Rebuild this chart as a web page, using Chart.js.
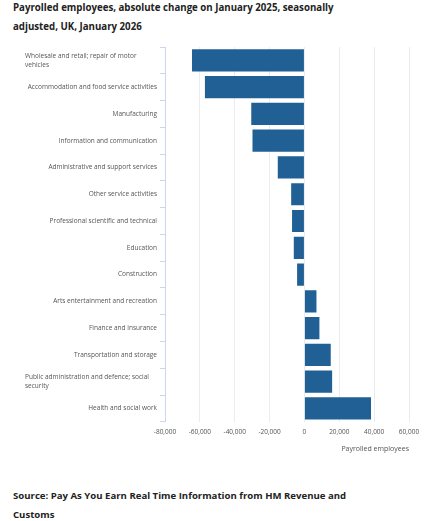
<!DOCTYPE html>
<html>
<head>
<meta charset="utf-8">
<script src="https://cdn.jsdelivr.net/npm/chart.js@4"></script>
<style>
  body { margin: 0; background: #fff; font-family: "Open Sans", sans-serif; }
  .title { position: absolute; left: 13px; top: -2px; width: 340px; font-size: 9.7px; font-weight: bold; line-height: 19px; color: #222; }
  .source { position: absolute; left: 13px; top: 486px; width: 350px; font-size: 9.6px; font-weight: bold; line-height: 19px; color: #222; }
  .wrap { position: absolute; left: 0; top: 40px; width: 435px; height: 413px; }
</style>
</head>
<body>
<div class="title">Payrolled employees, absolute change on January 2025, seasonally adjusted, UK, January 2026</div>
<div class="wrap"><canvas id="chart"></canvas></div>
<div class="source">Source: Pay As You Earn Real Time Information from HM Revenue and Customs</div>
<script>
// industries, top to bottom
const industries = [
  ['Wholesale and retail; repair of motor', 'vehicles'],
  'Accommodation and food service activities',
  'Manufacturing',
  'Information and communication',
  'Administrative and support services',
  'Other service activities',
  'Professional scientific and technical',
  'Education',
  'Construction',
  'Arts entertainment and recreation',
  'Finance and insurance',
  'Transportation and storage',
  ['Public administration and defence; social', 'security'],
  'Health and social work'
];

// change in payrolled employees vs January 2025
const changes = [-64500, -57100, -30500, -29800, -15300, -7600, -7100, -6100, -4200,
  6900, 8600, 15100, 15900, 38200];

const xMin = -80000;
const xMax = 60000;
const xStep = 20000;

const labelFont = { family: 'Open Sans', size: 6.5 };
const labelColor = '#555';

// wrapped labels sit left-aligned in a block, like the original
const wrappedLabels = {
  id: 'wrappedLabels',
  afterDraw(chart) {
    const scale = chart.scales.y;
    const c = chart.ctx;
    c.save();
    c.font = labelFont.size + 'px ' + labelFont.family;
    c.fillStyle = labelColor;
    c.textAlign = 'left';
    c.textBaseline = 'middle';
    const lh = 8.6;
    industries.forEach((lab, i) => {
      if (!Array.isArray(lab)) return;
      const y = scale.getPixelForTick(i);
      const y0 = y - (lab.length - 1) * lh / 2;
      lab.forEach((line, j) => c.fillText(line, 25, y0 + j * lh));
    });
    c.restore();
  }
};

new Chart(document.getElementById('chart'), {
  type: 'bar',
  data: {
    labels: industries,
    datasets: [{
      data: changes,
      backgroundColor: '#206095',
      barPercentage: 0.83,
      categoryPercentage: 1
    }]
  },
  options: {
    indexAxis: 'y',
    responsive: true,
    maintainAspectRatio: false,
    animation: false,
    layout: { padding: { top: 7, right: 26, left: 0, bottom: 0 } },
    plugins: {
      legend: { display: false },
      tooltip: { enabled: false }
    },
    scales: {
      x: {
        min: xMin,
        max: xMax,
        ticks: {
          stepSize: xStep,
          padding: 6,
          font: labelFont,
          color: labelColor,
          callback: v => v.toLocaleString('en-GB')
        },
        grid: {
          drawTicks: false,
          color: ctx => ctx.tick && ctx.tick.value === xMin ? 'transparent' : '#e8edf2'
        },
        border: { display: false },
        title: {
          display: true,
          text: 'Payrolled employees',
          align: 'end',
          color: labelColor,
          font: { family: 'Open Sans', size: 7 },
          padding: { top: 3, bottom: 0 }
        }
      },
      y: {
        afterFit(scale) { scale.width = 165; },
        ticks: {
          padding: 3,
          font: labelFont,
          color: ctx => Array.isArray(ctx.tick && ctx.tick.label) ? 'transparent' : labelColor
        },
        grid: {
          offset: true,
          drawOnChartArea: false,
          drawTicks: true,
          tickLength: 5,
          color: '#ccd6eb'
        },
        border: { display: true, color: '#ccd6eb' }
      }
    }
  },
  plugins: [wrappedLabels]
});
</script>
</body>
</html>
